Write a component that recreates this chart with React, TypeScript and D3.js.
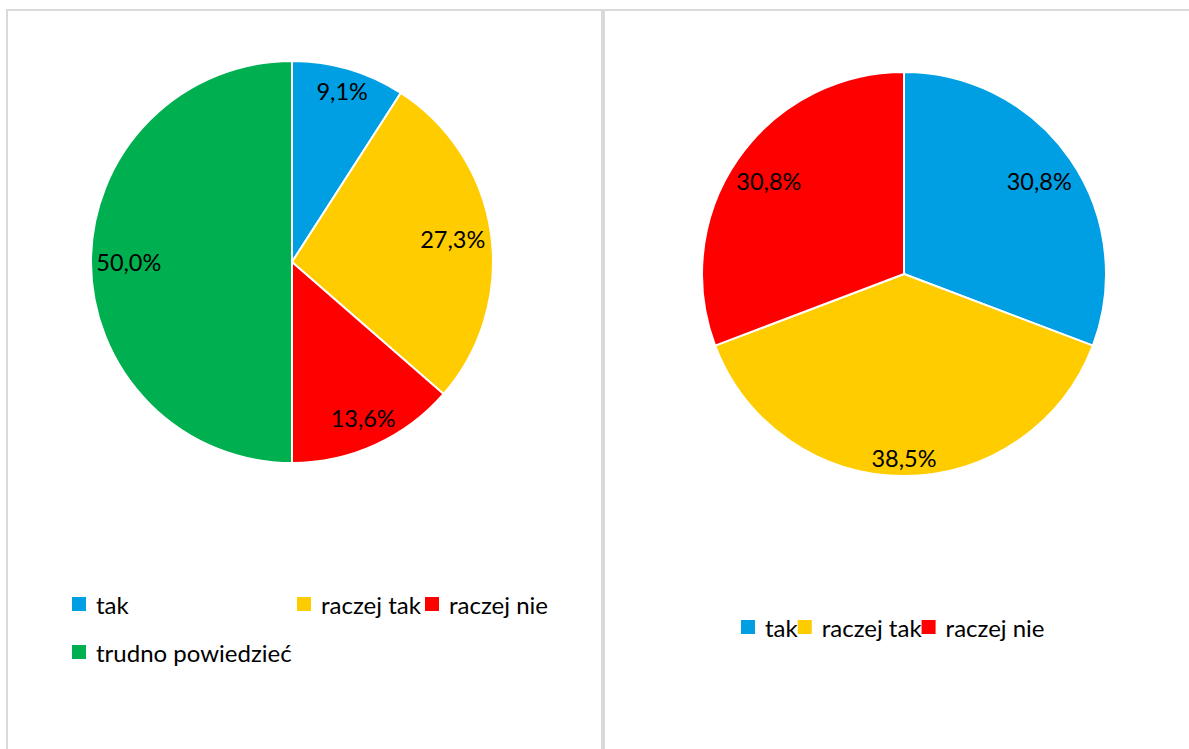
import React, { useEffect, useRef } from 'react'
import * as d3 from 'd3'

// left chart
const leftCategories = ['tak', 'raczej tak', 'raczej nie', 'trudno powiedzieć']
const leftValues = [9.1, 27.3, 13.6, 50.0]
const leftColors = ['#009fe3', '#ffcc00', '#ff0000', '#00b050']

// right chart
const rightCategories = ['tak', 'raczej tak', 'raczej nie']
const rightValues = [30.8, 38.5, 30.8]
const rightColors = ['#009fe3', '#ffcc00', '#ff0000']

const W = 1189
const H = 749
const FONT = 'Lato, "Open Sans", sans-serif'

const fmt = (v: number) => v.toFixed(1).replace('.', ',') + '%'

// Excel-like "best fit": push the label box outward until its far corner nearly touches the rim
const labelDistance = (angle: number, r: number, w: number, h: number, pad: number) => {
  const s = Math.abs(Math.sin(angle))
  const c = Math.abs(Math.cos(angle))
  let lo = 0
  let hi = r
  for (let i = 0; i < 40; i++) {
    const d = (lo + hi) / 2
    const dist = Math.hypot(d * s + w / 2, d * c + h / 2)
    if (dist > r - pad) hi = d
    else lo = d
  }
  return lo
}

const App: React.FC = () => {
  const ref = useRef<SVGSVGElement | null>(null)

  useEffect(() => {
    if (!ref.current) return
    const svg = d3.select(ref.current)
    svg.selectAll('*').remove()

    svg.append('rect').attr('width', W).attr('height', H).attr('fill', '#fff')

    // panel borders
    svg.append('rect')
      .attr('x', 7).attr('y', 10).attr('width', 595).attr('height', H + 20)
      .attr('fill', 'none').attr('stroke', '#d9d9d9').attr('stroke-width', 2)
    svg.append('rect')
      .attr('x', 604).attr('y', 10).attr('width', W + 20).attr('height', H + 20)
      .attr('fill', 'none').attr('stroke', '#d9d9d9').attr('stroke-width', 2)

    const drawPie = (cx: number, cy: number, r: number, values: number[], colors: string[]) => {
      const g = svg.append('g').attr('transform', `translate(${cx},${cy})`)
      const pie = d3.pie<number>().sort(null).value(d => d)
      const arcs = pie(values)
      const arc = d3.arc<d3.PieArcDatum<number>>().innerRadius(0).outerRadius(r)
      g.selectAll('path.slice')
        .data(arcs)
        .join('path')
        .attr('class', 'slice')
        .attr('d', arc)
        .attr('fill', (_, i) => colors[i])
        .attr('stroke', '#fff')
        .attr('stroke-width', 2)
        .attr('stroke-linejoin', 'round')

      arcs.forEach(a => {
        const t = g.append('text')
          .attr('font-family', FONT)
          .attr('font-size', 23.5)
          .attr('fill', '#000')
          .attr('text-anchor', 'middle')
          .attr('dominant-baseline', 'central')
          .text(fmt(a.data))
        const w = (t.node() as SVGTextElement).getComputedTextLength()
        const mid = (a.startAngle + a.endAngle) / 2
        const d = labelDistance(mid, r, w, 20, 5)
        t.attr('x', d * Math.sin(mid)).attr('y', -d * Math.cos(mid))
      })
    }

    drawPie(292, 262, 201, leftValues, leftColors)
    drawPie(904, 274, 202, rightValues, rightColors)

    const sq = 14
    const legendItem = (x: number, yc: number, label: string, color: string) => {
      svg.append('rect')
        .attr('x', x).attr('y', yc - sq / 2).attr('width', sq).attr('height', sq)
        .attr('fill', color)
      const t = svg.append('text')
        .attr('x', x + sq + 10).attr('y', yc)
        .attr('font-family', FONT)
        .attr('font-size', 24)
        .attr('fill', '#000')
        .attr('dominant-baseline', 'central')
        .text(label)
      return (t.node() as SVGTextElement).getComputedTextLength()
    }

    // left legend: Excel's column grid
    const leftSlots = [[72, 604], [297, 604], [425, 604], [72, 652]]
    leftCategories.forEach((c, i) => legendItem(leftSlots[i][0], leftSlots[i][1], c, leftColors[i]))

    // right legend: single flowing row
    let x = 741
    rightCategories.forEach((c, i) => {
      const w = legendItem(x, 627, c, rightColors[i])
      x += sq + 10 + w
    })
  }, [])

  return (
    <svg
      ref={ref}
      width={W}
      height={H}
      style={{ position: 'absolute', left: 0, top: 0, display: 'block' }}
    />
  )
}

export default App
